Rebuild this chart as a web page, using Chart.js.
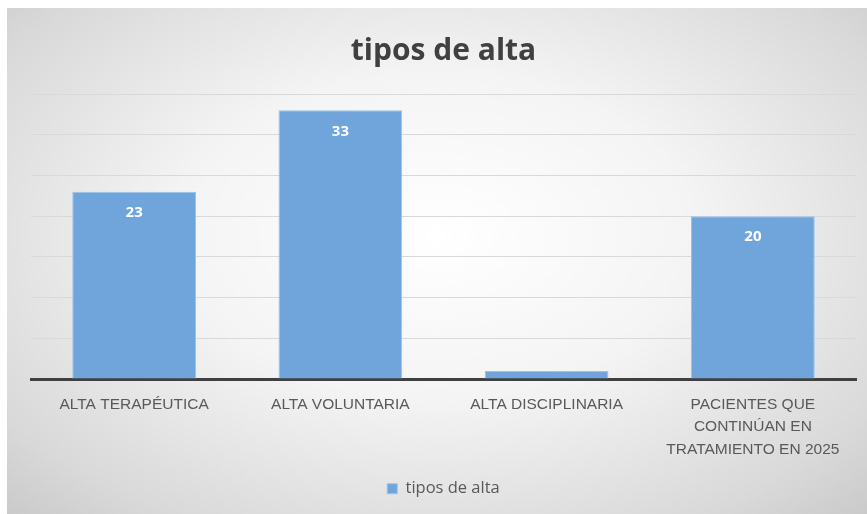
<!DOCTYPE html>
<html>
<head>
<meta charset="utf-8">
<script src="https://cdn.jsdelivr.net/npm/chart.js@4/dist/chart.umd.min.js"></script>
<style>
  html, body { margin: 0; padding: 0; background: #fff; }
  #wrap {
    position: absolute; left: 7px; top: 8px; width: 860px; height: 506px;
    background: radial-gradient(ellipse 75% 80% at 50% 45%, #ffffff 0%, #f4f4f4 40%, #d9d9d9 80%, #c6c6c6 100%);
  }
</style>
</head>
<body>
<div id="wrap"><canvas id="chart" width="860" height="506"></canvas></div>
<script>
const categories = ['ALTA TERAPÉUTICA', 'ALTA VOLUNTARIA', 'ALTA DISCIPLINARIA', ['PACIENTES QUE', 'CONTINÚAN EN', 'TRATAMIENTO EN 2025']];
const seriesName = 'tipos de alta';
const values = [23, 33, 1, 20];
const yTicks = [0, 5, 10, 15, 20, 25, 30, 35];

const FONT = "'Open Sans', sans-serif";
const AXIS_FONT = "'Liberation Sans', Arial, sans-serif";

// white value labels inside the top of each bar (hidden for tiny bars)
const valueLabels = {
  id: 'valueLabels',
  afterDatasetsDraw(chart) {
    const ctx = chart.ctx;
    const meta = chart.getDatasetMeta(0);
    ctx.save();
    ctx.fillStyle = '#ffffff';
    ctx.font = 'bold 15px ' + FONT;
    ctx.textAlign = 'center';
    ctx.textBaseline = 'middle';
    meta.data.forEach((bar, i) => {
      if (values[i] < 3) return;
      ctx.fillText(String(values[i]), bar.x, bar.y + 21);
    });
    ctx.restore();
  }
};

new Chart(document.getElementById('chart'), {
  type: 'bar',
  data: {
    labels: categories,
    datasets: [{
      label: seriesName,
      data: values,
      backgroundColor: '#6fa5db',
      borderColor: '#9cc2e8',
      borderWidth: 1,
      categoryPercentage: 1,
      barPercentage: 0.6
    }]
  },
  options: {
    responsive: false,
    animation: false,
    layout: { padding: { left: 24, right: 11, top: 0, bottom: 7 } },
    plugins: {
      title: {
        display: true,
        text: seriesName,
        color: '#404040',
        font: { family: FONT, size: 30, weight: 'bold' },
        padding: { top: 25, bottom: 25 }
      },
      legend: {
        position: 'bottom',
        labels: {
          color: '#595959',
          font: { family: FONT, size: 16.5 },
          boxWidth: 10,
          boxHeight: 10,
          padding: 14
        }
      },
      tooltip: { enabled: false }
    },
    scales: {
      x: {
        grid: { display: false },
        border: { color: '#404040', width: 3 },
        ticks: {
          color: '#595959',
          font: { family: AXIS_FONT, size: 15.5, lineHeight: 1.45 },
          padding: 6,
          maxRotation: 0,
          autoSkip: false
        }
      },
      y: {
        min: 0,
        max: 35,
        afterBuildTicks(scale) { scale.ticks = yTicks.map(v => ({ value: v })); },
        ticks: { display: false },
        border: { display: false },
        grid: { color: '#d9d9d9', lineWidth: 1, drawTicks: false }
      }
    }
  },
  plugins: [valueLabels]
});
</script>
</body>
</html>
